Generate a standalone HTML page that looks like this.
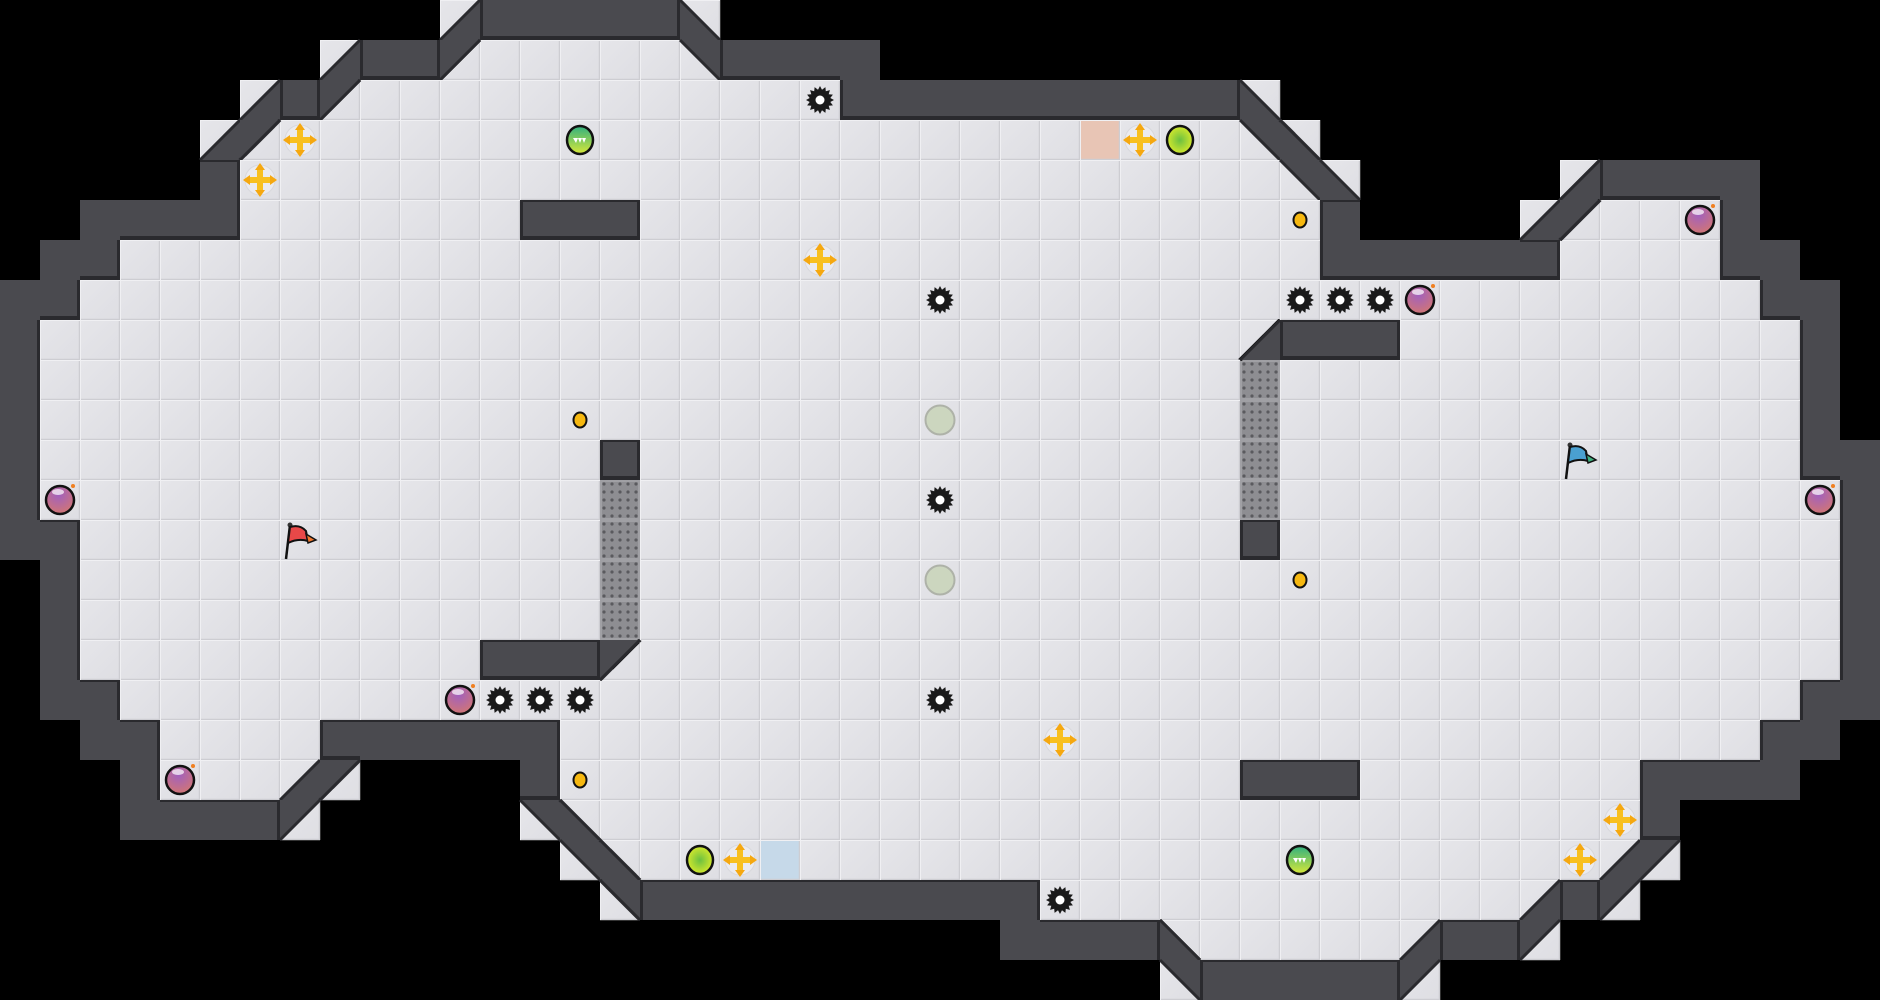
<!DOCTYPE html>
<html><head><meta charset="utf-8"><style>html,body{margin:0;padding:0;background:#000;overflow:hidden}svg{display:block}</style></head>
<body>
<svg id="s" width="1880" height="1000" viewBox="0 0 1880 1000" xmlns="http://www.w3.org/2000/svg">
<defs>
<linearGradient id="fl" x1="0" y1="0" x2="1" y2="1"><stop offset="0" stop-color="#e6e6ea"/><stop offset="1" stop-color="#dedee3"/></linearGradient>
<pattern id="gr" width="8" height="8" patternUnits="userSpaceOnUse"><rect width="8" height="8" fill="#8e8e92"/><circle cx="4" cy="4" r="1.6" fill="#5a5a5e"/></pattern>
<radialGradient id="pb" cx="0.45" cy="0.3" r="0.8"><stop offset="0" stop-color="#a060c0"/><stop offset="1" stop-color="#d8786a"/></radialGradient>
<linearGradient id="gb" x1="0" y1="0" x2="0" y2="1"><stop offset="0" stop-color="#30b080"/><stop offset="1" stop-color="#d8e838"/></linearGradient>
<radialGradient id="yb" cx="0.5" cy="0.5" r="0.6"><stop offset="0" stop-color="#6cc040"/><stop offset="1" stop-color="#e8f028"/></radialGradient>
</defs>
<rect width="1880" height="1000" fill="#000"/>
<g id="tiles"></g>
<g id="items"></g>
</svg>
<script>
var rows=[
[[11,11,'d'],[12,16,'#'],[17,17,'b']],
[[8,8,'d'],[9,10,'#'],[11,11,'q'],[12,16,'.'],[17,17,'p'],[18,21,'#']],
[[6,6,'d'],[7,7,'#'],[8,8,'q'],[9,20,'.'],[21,30,'#'],[31,31,'b']],
[[5,5,'d'],[6,6,'q'],[7,30,'.'],[31,31,'p'],[32,32,'b'],[27,27,'R']],
[[5,5,'#'],[6,31,'.'],[32,32,'p'],[33,33,'b'],[39,39,'d'],[40,43,'#']],
[[2,5,'#'],[6,32,'.'],[13,15,'#'],[33,33,'#'],[38,38,'d'],[39,39,'q'],[40,42,'.'],[43,43,'#']],
[[1,2,'#'],[3,32,'.'],[33,38,'#'],[39,42,'.'],[43,44,'#']],
[[0,1,'#'],[2,43,'.'],[44,45,'#']],
[[0,0,'#'],[1,44,'.'],[31,31,'d'],[32,34,'#'],[45,45,'#']],
[[0,0,'#'],[1,44,'.'],[45,45,'#'],[31,31,'g']],
[[0,0,'#'],[1,44,'.'],[45,45,'#'],[31,31,'g']],
[[0,0,'#'],[1,44,'.'],[45,46,'#'],[15,15,'#'],[31,31,'g']],
[[0,0,'#'],[1,45,'.'],[46,46,'#'],[15,15,'g'],[31,31,'g']],
[[0,1,'#'],[2,45,'.'],[46,46,'#'],[15,15,'g'],[31,31,'#']],
[[1,1,'#'],[2,45,'.'],[46,46,'#'],[15,15,'g']],
[[1,1,'#'],[2,45,'.'],[46,46,'#'],[15,15,'g']],
[[1,1,'#'],[2,45,'.'],[46,46,'#'],[12,14,'#'],[15,15,'q']],
[[1,2,'#'],[3,44,'.'],[45,46,'#']],
[[2,3,'#'],[4,7,'.'],[8,13,'#'],[14,43,'.'],[44,45,'#']],
[[3,3,'#'],[4,6,'.'],[7,7,'d'],[8,8,'q'],[13,13,'#'],[14,40,'.'],[31,33,'#'],[41,44,'#']],
[[3,6,'#'],[7,7,'q'],[13,13,'p'],[14,14,'b'],[15,40,'.'],[41,41,'#']],
[[14,14,'p'],[15,15,'b'],[16,39,'.'],[40,40,'d'],[41,41,'q'],[19,19,'B']],
[[15,15,'p'],[16,25,'#'],[26,37,'.'],[38,38,'d'],[39,39,'#'],[40,40,'q']],
[[25,28,'#'],[29,29,'b'],[30,34,'.'],[35,35,'d'],[36,37,'#'],[38,38,'q']],
[[29,29,'p'],[30,34,'#'],[35,35,'q']]
];
var G=rows.map(function(sp){var a=[];for(var i=0;i<47;i++)a.push(' ');sp.forEach(function(s){for(var c=s[0];c<=s[1];c++)a[c]=s[2];});return a;});
var W='#4a4a4f',D='#2a2a2e',out='';
function at(r,c){if(r<0||r>24||c<0||c>46)return ' ';return G[r][c];}
function isFloor(ch){return ch!==' '&&ch!=='#';}
function floor(x,y,fill){return '<rect x="'+x+'" y="'+y+'" width="40" height="40" fill="'+(fill||'url(#fl)')+'"/>'+
'<path d="M'+x+' '+(y+39.5)+'H'+(x+40)+'M'+(x+39.5)+' '+y+'V'+(y+40)+'" stroke="#cdcdd2" stroke-width="1.5"/>'+
'<path d="M'+x+' '+(y+0.5)+'H'+(x+40)+'M'+(x+0.5)+' '+y+'V'+(y+40)+'" stroke="#f0f0f3" stroke-width="1"/>';}
for(var r=0;r<25;r++)for(var c=0;c<47;c++){
 var ch=G[r][c],x=c*40,y=r*40;
 if(ch===' ')continue;
 if(ch==='#'){out+='<rect x="'+x+'" y="'+y+'" width="40" height="40" fill="'+W+'"/>';continue;}
 if(ch==='g'){out+='<rect x="'+x+'" y="'+y+'" width="40" height="40" fill="url(#gr)"/><rect x="'+(x+1)+'" y="'+(y+1)+'" width="38" height="38" fill="none" stroke="#a0a0a4" stroke-width="2"/>';continue;}
 if(ch==='R'){out+=floor(x,y,'#e8c5b5');continue;}
 if(ch==='B'){out+=floor(x,y,'#c6d9e9');continue;}
 out+=floor(x,y);
 var p,l;
 if(ch==='d'){p=[[x+40,y],[x+40,y+40],[x,y+40]];l=[[x+40,y],[x,y+40]];}
 if(ch==='b'){p=[[x,y],[x,y+40],[x+40,y+40]];l=[[x,y],[x+40,y+40]];}
 if(ch==='q'){p=[[x,y],[x+40,y],[x,y+40]];l=[[x+40,y],[x,y+40]];}
 if(ch==='p'){p=[[x,y],[x+40,y],[x+40,y+40]];l=[[x,y],[x+40,y+40]];}
 if(p){out+='<polygon points="'+p.map(function(q){return q.join(',')}).join(' ')+'" fill="'+W+'"/>'+
 '<line x1="'+l[0][0]+'" y1="'+l[0][1]+'" x2="'+l[1][0]+'" y2="'+l[1][1]+'" stroke="'+D+'" stroke-width="3"/>';}
}
// dark edges on walls adjacent to floor
for(var r=0;r<25;r++)for(var c=0;c<47;c++){
 if(G[r][c]!=='#')continue;var x=c*40,y=r*40;
 if(isFloor(at(r+1,c)))out+='<rect x="'+x+'" y="'+(y+36)+'" width="40" height="4" fill="'+D+'"/>';
 if(isFloor(at(r-1,c)))out+='<rect x="'+x+'" y="'+y+'" width="40" height="2" fill="'+D+'"/>';
 if(isFloor(at(r,c+1)))out+='<rect x="'+(x+37)+'" y="'+y+'" width="3" height="40" fill="'+D+'"/>';
 if(isFloor(at(r,c-1)))out+='<rect x="'+x+'" y="'+y+'" width="3" height="40" fill="'+D+'"/>';
}
document.getElementById('tiles').innerHTML=out;
var it='';
function C(c,r){return [c*40+20,r*40+20];}
function spike(c,r){var p=C(c,r),pts=[];for(var i=0;i<32;i++){var a=i*Math.PI/16,rad=(i%2?10.5:14);pts.push((p[0]+rad*Math.cos(a)).toFixed(1)+','+(p[1]+rad*Math.sin(a)).toFixed(1));}
 it+='<polygon points="'+pts.join(' ')+'" fill="#1a1a1a"/><circle cx="'+p[0]+'" cy="'+p[1]+'" r="4.5" fill="#fff"/>';}
function boost(c,r){var p=C(c,r),x=p[0],y=p[1];
 it+='<circle cx="'+x+'" cy="'+y+'" r="15" fill="#ebebef" stroke="#d8d8dc" stroke-width="1"/>'+
 '<rect x="'+(x-11)+'" y="'+(y-3)+'" width="22" height="6" fill="#f8c020"/><rect x="'+(x-3)+'" y="'+(y-11)+'" width="6" height="22" fill="#f8c020"/>'+
 '<polygon points="'+x+','+(y-17)+' '+(x-5)+','+(y-10)+' '+(x+5)+','+(y-10)+'" fill="#f5a810"/>'+
 '<polygon points="'+x+','+(y+17)+' '+(x-5)+','+(y+10)+' '+(x+5)+','+(y+10)+'" fill="#f5a810"/>'+
 '<polygon points="'+(x-17)+','+y+' '+(x-10)+','+(y-5)+' '+(x-10)+','+(y+5)+'" fill="#f5a810"/>'+
 '<polygon points="'+(x+17)+','+y+' '+(x+10)+','+(y-5)+' '+(x+10)+','+(y+5)+'" fill="#f5a810"/>';}
function bomb(c,r){var p=C(c,r);it+='<circle cx="'+p[0]+'" cy="'+p[1]+'" r="14" fill="url(#pb)" stroke="#111" stroke-width="2.5"/><ellipse cx="'+(p[0]-2)+'" cy="'+(p[1]-8)+'" rx="6" ry="3" fill="#fff" opacity=".7"/><circle cx="'+(p[0]+13)+'" cy="'+(p[1]-14)+'" r="2" fill="#f08020"/>';}
function gball(c,r){var p=C(c,r);it+='<ellipse cx="'+p[0]+'" cy="'+p[1]+'" rx="13" ry="14" fill="url(#gb)" stroke="#111" stroke-width="2.5"/><path d="M'+(p[0]-7)+' '+(p[1]-2)+'l3 5 2-5 2 5 2-5 2 5 2-5z" fill="#fff"/>';}
function yball(c,r){var p=C(c,r);it+='<ellipse cx="'+p[0]+'" cy="'+p[1]+'" rx="13" ry="14" fill="url(#yb)" stroke="#111" stroke-width="2.5"/>';}
function coin(c,r){var p=C(c,r);it+='<ellipse cx="'+p[0]+'" cy="'+p[1]+'" rx="6.5" ry="7.5" fill="#f6b810" stroke="#111" stroke-width="2"/>';}
function pale(c,r){var p=C(c,r);it+='<circle cx="'+p[0]+'" cy="'+p[1]+'" r="14.5" fill="#ccd6bf" stroke="#aeb2a8" stroke-width="2"/>';}
function flag(c,r,col,col2){var p=C(c,r),x=p[0]-14,y=p[1];
 it+='<line x1="'+x+'" y1="'+(y+19)+'" x2="'+(x+4)+'" y2="'+(y-15)+'" stroke="#111" stroke-width="2.5"/><circle cx="'+(x+4)+'" cy="'+(y-15)+'" r="2.5" fill="#333"/>'+
 '<path d="M'+(x+4)+' '+(y-13)+'Q'+(x+14)+' '+(y-16)+' '+(x+20)+' '+(y-9)+'L'+(x+22)+' '+(y+1)+'Q'+(x+12)+' '+(y-2)+' '+(x+2)+' '+(y+3)+'Z" fill="'+col+'" stroke="#111" stroke-width="2"/>'+
 '<path d="M'+(x+20)+' '+(y-6)+'L'+(x+30)+' '+(y)+'L'+(x+22)+' '+(y+3)+'Z" fill="'+col2+'" stroke="#111" stroke-width="1.5"/>';}
[[20,2],[23,7],[32,7],[33,7],[34,7],[23,12],[12,17],[13,17],[14,17],[23,17],[26,22]].forEach(function(a){spike(a[0],a[1]);});
[[7,3],[6,4],[28,3],[20,6],[26,18],[40,20],[39,21],[18,21]].forEach(function(a){boost(a[0],a[1]);});
[[35,7],[42,5],[1,12],[45,12],[11,17],[4,19]].forEach(function(a){bomb(a[0],a[1]);});
gball(14,3);gball(32,21);yball(29,3);yball(17,21);
[[32,5],[14,10],[32,14],[14,19]].forEach(function(a){coin(a[0],a[1]);});
pale(23,10);pale(23,14);
flag(7,13,'#e84848','#f07830');flag(39,11,'#4aa0d0','#40b080');
document.getElementById('items').innerHTML=it;
</script>
</body></html>
